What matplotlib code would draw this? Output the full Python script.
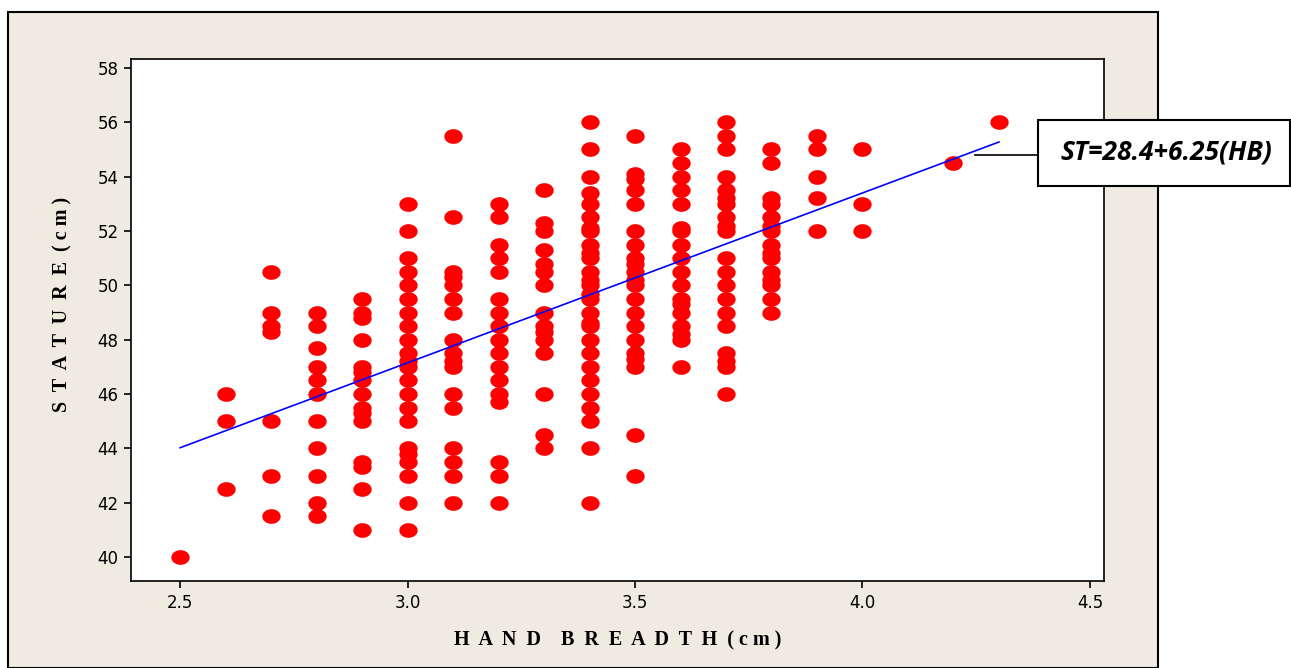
import numpy as np
import matplotlib
matplotlib.use("Agg")
import matplotlib.pyplot as plt
from matplotlib.patches import Rectangle
from matplotlib.lines import Line2D
from matplotlib.path import Path

# hand breadth (cm) -> stature values (cm)
hb_levels = [2.5, 2.6, 2.7, 2.8, 2.9, 3.0, 3.1, 3.2, 3.3, 3.4, 3.5, 3.6, 3.7, 3.8, 3.9, 4.0, 4.2, 4.3]
stature = [
    [40],
    [46, 45, 42.5],
    [50.5, 49, 48.5, 48.3, 45, 43, 41.5],
    [49, 48.5, 47.7, 47, 46.5, 46, 45, 44, 43, 42, 41.5],
    [49.5, 49, 48.8, 48, 47, 46.8, 46.5, 46, 45.5, 45.3, 45, 43.5, 43.3, 42.5, 41],
    [53, 52, 51, 50.5, 50, 49.5, 49, 48.5, 48, 47.5, 47.2, 47, 46.5, 46, 45.5, 45,
     44, 43.8, 43.5, 43, 42, 41],
    [55.5, 52.5, 50.5, 50.3, 50, 49.5, 49, 48, 47.5, 47.2, 47, 46, 45.5, 44, 43.5, 43, 42],
    [53, 52.5, 51.5, 51, 50.5, 49.5, 49, 48.5, 48, 47.5, 47, 46.5, 46, 45.7, 43.5, 43, 42],
    [53.5, 52.3, 52, 51.3, 50.8, 50.5, 50, 49, 48.5, 48.3, 48, 47.5, 46, 44.5, 44],
    [56, 55, 54, 53.4, 53, 52.5, 52.1, 52, 51.5, 51.2, 51, 50.5, 50.2, 50, 49.7, 49.5,
     49, 48.6, 48.5, 48, 47.5, 47, 46.5, 46, 45.5, 45, 44, 42],
    [55.5, 54.1, 53.9, 53.5, 53, 52, 51.5, 51, 50.8, 50.5, 50.2, 50, 49.5, 49, 48.5,
     48, 47.5, 47.3, 47, 44.5, 43],
    [55, 54.5, 54, 53.5, 53, 52.1, 52, 51.5, 51, 50.5, 50, 49.5, 49.3, 49, 48.5, 48.2, 48, 47],
    [56, 55.5, 55, 54, 53.5, 53.2, 53, 52.5, 52.2, 52, 51, 50.5, 50, 49.5, 49, 48.5,
     47.5, 47.2, 47, 46],
    [55, 54.5, 53.2, 53, 52.5, 52.2, 52, 51.5, 51.2, 51, 50.5, 50.2, 50, 49.5, 49],
    [55.5, 55, 54, 53.2, 52],
    [55, 53, 52],
    [54.5],
    [56],
]

intercept = 28.4
slope = 6.25
fit_x = [2.5, 4.3]
equation = "ST=28.4+6.25(HB)"

x_ticks = [2.5, 3.0, 3.5, 4.0, 4.5]
y_ticks = [40, 42, 44, 46, 48, 50, 52, 54, 56, 58]

xs = np.concatenate([[h] * len(v) for h, v in zip(hb_levels, stature)])
ys = np.concatenate([v for v in stature])

# slightly flattened dot like the original
t = np.linspace(0, 2 * np.pi, 40)
ellipse = Path(np.column_stack([np.cos(t), 0.8 * np.sin(t)]), closed=True)

fig = plt.figure(figsize=(12.91, 6.68), dpi=100, facecolor="white")
W, H = 1291, 668

# beige frame behind everything
fig.patches.append(Rectangle((8 / W, 0), 1150 / W, 1 - 12 / H, transform=fig.transFigure,
                             facecolor="#EFEBE0", edgecolor="black", linewidth=1.5, zorder=-10))

ax = fig.add_axes([131 / W, 1 - 581 / H, (1104 - 131) / W, (581 - 59) / H])
ax.set_zorder(1)
ax.set_facecolor("white")
ax.scatter(xs, ys, s=175, marker=ellipse, color="#FF0000", linewidths=0, zorder=2)
ax.plot(fit_x, [intercept + slope * v for v in fit_x], color="#0000FF", linewidth=1.2, zorder=3)

ax.set_xlim(2.392, 4.531)
ax.set_ylim(39.12, 58.33)
ax.set_xticks(x_ticks)
ax.set_xticklabels([f"{v:.1f}" for v in x_ticks])
ax.set_yticks(y_ticks)
ax.tick_params(direction="out", length=5, width=1.2, labelsize=12, colors="black", pad=4)
for sp in ax.spines.values():
    sp.set_linewidth(1.2)


def spaced(words):
    # wide letter spacing like the original axis titles
    return "    ".join("  ".join(w) for w in words)


lab = dict(family="Liberation Serif", fontweight="bold", fontsize=14.5)
ax.set_xlabel(spaced(["HAND", "BREADTH"]) + "  ( c m )", **lab)
ax.set_ylabel(spaced(["STATURE"]) + "  ( c m )", **lab)
ax.xaxis.set_label_coords(0.5, -0.095)
ax.yaxis.set_label_coords(-0.06, 0.53)

# equation box
fig.lines.append(Line2D([975 / W, 1038 / W], [1 - 155 / H, 1 - 155 / H], transform=fig.transFigure,
                        color="black", linewidth=1.2, zorder=5))
fig.patches.append(Rectangle((1038 / W, 1 - 186 / H), 252 / W, 66 / H, transform=fig.transFigure,
                             facecolor="white", edgecolor="black", linewidth=1.5, zorder=5))
fig.text(1166 / W, 1 - 152 / H, equation, ha="center", va="center", fontsize=19,
         fontweight="bold", style="italic", family="Open Sans", zorder=6)

fig.savefig("out.png", dpi=100, facecolor=fig.get_facecolor())
